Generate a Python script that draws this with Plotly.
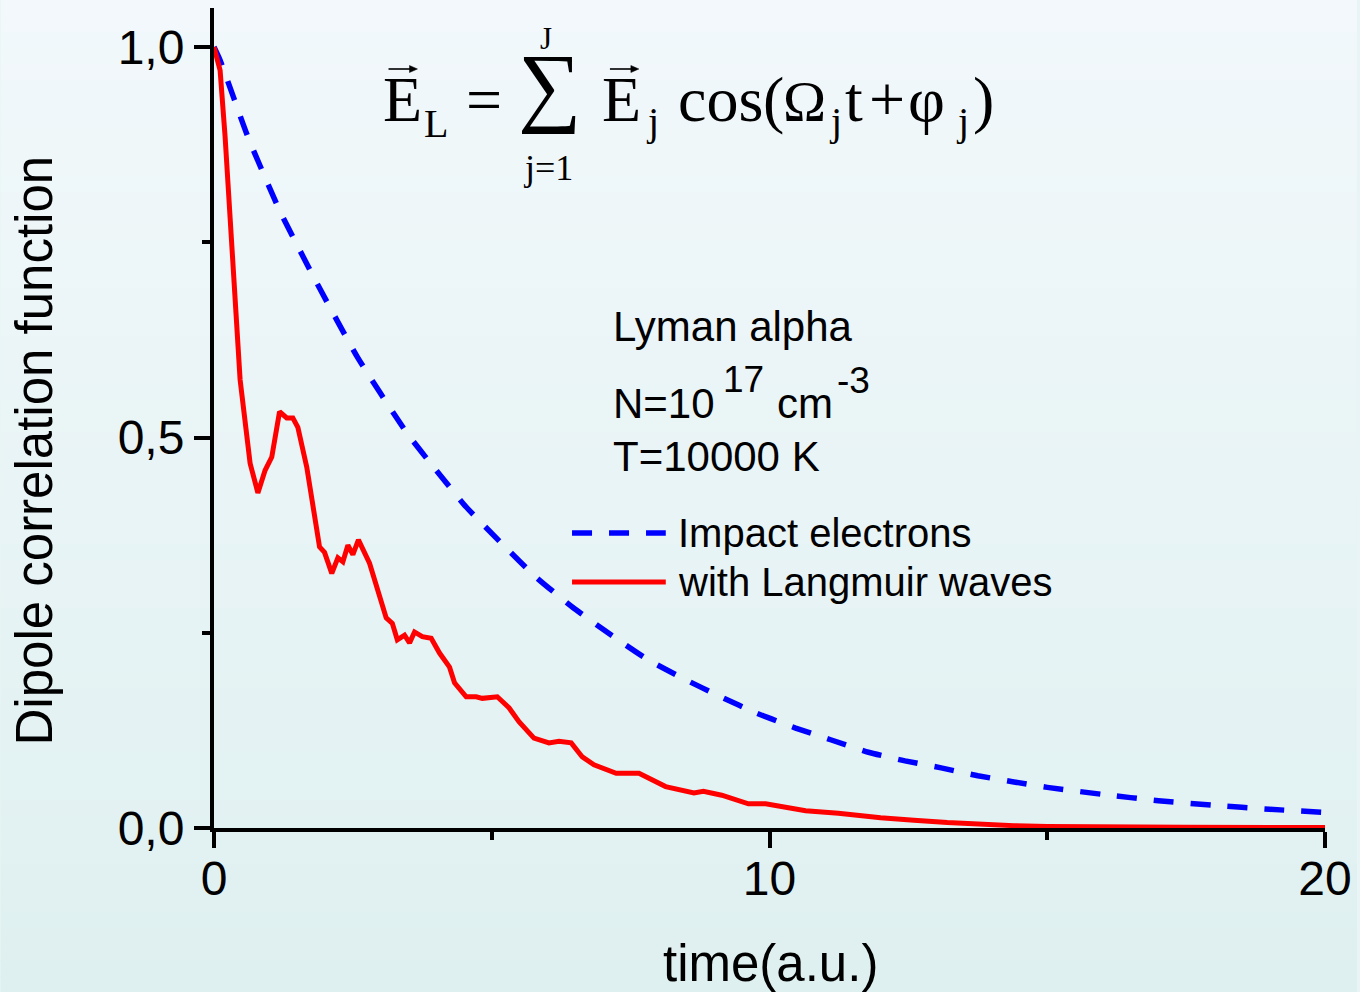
import plotly.graph_objects as go

# ---------------- data ----------------
t_red = [0.0, 0.11, 0.2, 0.34, 0.47, 0.65, 0.79, 0.92, 1.04, 1.18, 1.31, 1.42, 1.51,
         1.67, 1.9, 1.99, 2.12, 2.23, 2.32, 2.41, 2.5, 2.6, 2.8, 3.1, 3.21, 3.3, 3.43,
         3.52, 3.61, 3.75, 3.91, 4.06, 4.24, 4.33, 4.54, 4.72, 4.83, 5.1, 5.31, 5.49,
         5.76, 6.03, 6.21, 6.43, 6.63, 6.84, 7.24, 7.65, 8.13, 8.64, 8.81, 9.14, 9.62,
         9.93, 10.22, 10.65, 11.24, 12.0, 12.6, 13.2, 14.4, 15.0, 17.5, 20.0]
v_red = [1.0, 0.97, 0.885, 0.72, 0.574, 0.467, 0.429, 0.458, 0.475, 0.533, 0.525, 0.525,
         0.513, 0.462, 0.36, 0.353, 0.326, 0.346, 0.341, 0.362, 0.35, 0.369, 0.339, 0.269,
         0.262, 0.241, 0.247, 0.237, 0.251, 0.245, 0.243, 0.224, 0.206, 0.186, 0.168,
         0.168, 0.166, 0.168, 0.154, 0.136, 0.115, 0.109, 0.111, 0.109, 0.091, 0.081,
         0.070, 0.070, 0.053, 0.045, 0.047, 0.042, 0.031, 0.031, 0.027, 0.022, 0.019,
         0.013, 0.010, 0.007, 0.003, 0.002, 0.001, 0.0005]

t_blue = [0.0, 0.11, 0.61, 1.18, 1.85, 2.59, 3.46, 4.0, 4.54, 5.17, 5.8, 6.45, 7.15, 7.8,
          8.46, 9.12, 9.77, 10.47, 11.1, 11.78, 12.44, 13.09, 13.75, 14.4, 15.0, 16.0,
          17.0, 18.0, 19.0, 20.0]
v_blue = [1.0, 0.983, 0.885, 0.791, 0.698, 0.602, 0.507, 0.458, 0.411, 0.365, 0.321,
          0.283, 0.247, 0.216, 0.191, 0.168, 0.147, 0.128, 0.113, 0.097, 0.086, 0.077,
          0.067, 0.059, 0.052, 0.043, 0.035, 0.029, 0.024, 0.020]

series_names = ["Impact electrons", "with Langmuir waves"]
x_tickvals = [0, 10, 20]
x_ticktext = ["0", "10", "20"]
x_minor = [5, 15]
y_tickvals = [0.0, 0.5, 1.0]
y_ticktext = ["0,0", "0,5", "1,0"]
y_minor = [0.25, 0.75]
x_title = "time(a.u.)"
y_title = "Dipole correlation function"
info_title = "Lyman alpha"
info_density = ["N=10", "17", "cm", "-3"]
info_temp = "T=10000 K"

# ---------------- layout helpers ----------------
W, H = 1360, 992
ML, MR, MT, MB = 214, 32, 8, 164
PW, PH = W - ML - MR, H - MT - MB


def PX(x):
    return (x - ML) / PW


def PY(y):
    return (H - MB - y) / PH


SANS = "Liberation Sans, Arial, sans-serif"
SERIF = "Liberation Serif, Times New Roman, serif"
BLUE = "#0000ff"
RED = "#ff0000"

fig = go.Figure()
fig.add_trace(go.Scatter(x=t_blue, y=v_blue, mode="lines", name=series_names[0],
                         line=dict(color=BLUE, width=5.5, dash="20px,17px", shape="spline",
                                   smoothing=0.5)))
fig.add_trace(go.Scatter(x=t_red, y=v_red, mode="lines", name=series_names[1],
                         line=dict(color=RED, width=5)))

# background gradient
shapes = []
N = 62
top = (0xF2, 0xF8, 0xFB)
bot = (0xDF, 0xF0, 0xF0)
for i in range(N):
    f = (i + 0.5) / N
    c = tuple(round(top[k] + (bot[k] - top[k]) * f) for k in range(3))
    y0 = i * H / N
    y1 = (i + 1) * H / N + 1
    shapes.append(dict(type="rect", xref="paper", yref="paper", layer="below",
                       x0=PX(0), x1=PX(W), y0=PY(y1), y1=PY(y0),
                       fillcolor="rgb(%d,%d,%d)" % c, line=dict(width=0)))

# legend samples
shapes.append(dict(type="line", xref="paper", yref="paper", x0=PX(573), x1=PX(667),
                   y0=PY(533), y1=PY(533), line=dict(color=BLUE, width=5.5, dash="20px,17px")))
shapes.append(dict(type="line", xref="paper", yref="paper", x0=PX(573), x1=PX(667),
                   y0=PY(582), y1=PY(582), line=dict(color=RED, width=5)))


# vector arrows over the E's of the formula
def vec_arrow(x0, x1, y):
    shapes.append(dict(type="line", xref="paper", yref="paper", x0=PX(x0), x1=PX(x1 - 5),
                       y0=PY(y), y1=PY(y), line=dict(color="black", width=1.6)))
    shapes.append(dict(type="path", xref="paper", yref="paper",
                       path="M %f,%f L %f,%f L %f,%f Z" % (PX(x1 - 8), PY(y - 3.5), PX(x1), PY(y),
                                                           PX(x1 - 8), PY(y + 3.5)),
                       fillcolor="black", line=dict(color="black", width=0.5)))


vec_arrow(389, 418, 69)
vec_arrow(611, 640, 69)

annotations = []


def txt(text, x, baseline, size, font=SANS, xanchor="center", k=0.3465):
    annotations.append(dict(text=text, xref="paper", yref="paper", x=PX(x),
                            y=PY(baseline - k * size), xanchor=xanchor, yanchor="middle",
                            showarrow=False,
                            font=dict(family=font, size=size, color="black")))


# legend texts
txt(series_names[0], 677, 533 + 0.345 * 40, 40, xanchor="left")
txt(series_names[1], 677, 582 + 0.345 * 40, 40, xanchor="left")

# info text
txt(info_title, 612, 341, 42, xanchor="left")
txt(info_density[0], 612, 418, 42, xanchor="left")
txt(info_density[1], 722, 392, 37, xanchor="left")
txt(info_density[2], 777, 418, 42, xanchor="left")
txt(info_density[3], 837, 393, 37, xanchor="left")
txt(info_temp, 612, 471, 42, xanchor="left")

# axis titles
txt(x_title, 772, 981, 51)
annotations.append(dict(text=y_title, xref="paper", yref="paper", x=PX(34), y=PY(450),
                        xanchor="center", yanchor="middle", showarrow=False, textangle=-90,
                        font=dict(family=SANS, size=51, color="black")))

# formula
txt("E", 403, 122, 64, SERIF)
txt("L", 437, 137, 40, SERIF)
txt("=", 485, 122, 64, SERIF)
txt("\u2211", 550, 116, 89, SERIF)
txt("J", 547, 49, 31, SERIF)
txt("j=1", 549, 180, 36, SERIF)
txt("E", 623, 122, 64, SERIF)
txt("j", 654, 135, 40, SERIF)
txt("cos", 677, 122, 64, SERIF, xanchor="left")
txt("(", 775, 122, 64, SERIF)
txt("\u03a9", 806, 122, 58, SERIF)
txt("j", 837, 135, 40, SERIF)
txt("t", 856, 122, 64, SERIF)
txt("+", 889, 122, 64, SERIF)
txt("\u03c6", 928, 122, 64, SERIF)
txt("j", 965, 135, 40, SERIF)
txt(")", 986, 122, 64, SERIF)

axis_common = dict(showline=True, linecolor="black", linewidth=4, ticks="outside",
                   ticklen=16, tickwidth=4, tickcolor="black", showgrid=False,
                   zeroline=False, layer="below traces",
                   tickfont=dict(family=SANS, size=48, color="black"))

fig.update_layout(
    width=W, height=H, margin=dict(l=ML, r=MR, t=MT, b=MB),
    paper_bgcolor="#e8f4f5", plot_bgcolor="rgba(0,0,0,0)",
    showlegend=False, shapes=shapes, annotations=annotations,
    xaxis=dict(range=[0, 20], tickmode="array", tickvals=x_tickvals, ticktext=x_ticktext,
               ticklabelstandoff=-11,
               minor=dict(tickmode="array", tickvals=x_minor, ticks="outside", ticklen=8,
                          tickwidth=4, tickcolor="black"),
               **axis_common),
    yaxis=dict(range=[0, 1.05], tickmode="array", tickvals=y_tickvals, ticktext=y_ticktext,
               minor=dict(tickmode="array", tickvals=y_minor, ticks="outside", ticklen=8,
                          tickwidth=4, tickcolor="black"),
               **axis_common),
)

fig.write_html("out.html")
